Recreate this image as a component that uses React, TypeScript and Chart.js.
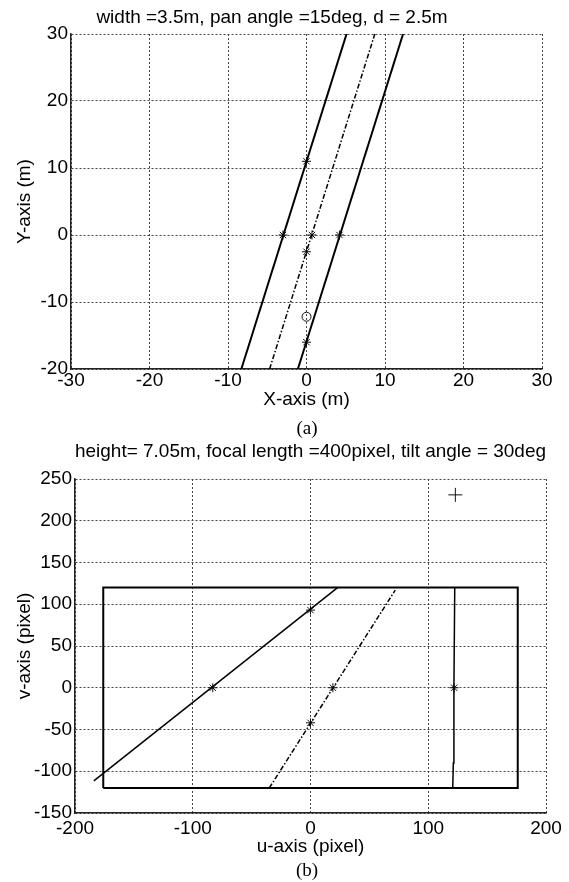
import React, { useEffect, useRef } from 'react';
import { Chart, registerables } from 'chart.js';

Chart.register(...registerables);

const FONT = "'Liberation Sans', Arial, Helvetica, sans-serif";
const SERIF = "'Liberation Serif', 'Times New Roman', serif";

// ---------- Panel (a): road plane ----------
const A_TITLE = 'width =3.5m, pan angle =15deg, d = 2.5m';
const A_X_LABEL = 'X-axis (m)';
const A_Y_LABEL = 'Y-axis (m)';
const A_X_TICKS = [-30, -20, -10, 0, 10, 20, 30];
const A_Y_TICKS = [-20, -10, 0, 10, 20, 30];
const A_LEFT_EDGE = [{ x: -8.3, y: -20 }, { x: 5.1, y: 30 }];
const A_CENTER_LINE = [{ x: -4.7, y: -20 }, { x: 8.7, y: 30 }];
const A_RIGHT_EDGE = [{ x: -1.1, y: -20 }, { x: 12.3, y: 30 }];
const A_STARS = [
  { x: 0, y: 11 }, { x: -3, y: 0 },
  { x: 0.7, y: 0 }, { x: 0, y: -2.5 },
  { x: 4.2, y: 0 }, { x: 0, y: -16 },
];
const A_CIRCLE = [{ x: 0, y: -12.2 }];

// ---------- Panel (b): image plane ----------
const B_TITLE = 'height= 7.05m, focal length =400pixel, tilt angle = 30deg';
const B_X_LABEL = 'u-axis (pixel)';
const B_Y_LABEL = 'v-axis (pixel)';
const B_X_TICKS = [-200, -100, 0, 100, 200];
const B_Y_TICKS = [-150, -100, -50, 0, 50, 100, 150, 200, 250];
const B_FRAME = [
  { x: -176, y: -120 }, { x: -176, y: 120 }, { x: 176, y: 120 },
  { x: 176, y: -120 }, { x: -176, y: -120 },
];
const B_LEFT_EDGE = [{ x: -184, y: -111.6 }, { x: 23, y: 120 }];
const B_CENTER_LINE = [{ x: -35, y: -120 }, { x: 72, y: 117 }];
const B_RIGHT_EDGE = [{ x: 120.8, y: -120 }, { x: 121.3, y: -90 }, { x: 121.8, y: 0 }, { x: 122.5, y: 120 }];
const B_STARS = [
  { x: 0, y: 93 }, { x: -83, y: 0 },
  { x: 0, y: -42 }, { x: 19, y: 0 },
  { x: 122, y: 0 },
];
const B_PLUS = [{ x: 123, y: 231 }];

function lineDs(label: string, data: any[], width: number, dash: number[] = []) {
  return {
    label, data, showLine: true, borderColor: '#000', borderWidth: width, borderDash: dash,
    pointRadius: 0, pointHoverRadius: 0, fill: false, tension: 0,
  };
}

function markerDs(label: string, data: any[], style: string, radius: number) {
  return {
    label, data, showLine: false, pointStyle: style, pointRadius: radius, pointHoverRadius: radius,
    pointBorderColor: '#111', pointBackgroundColor: 'rgba(0,0,0,0)', pointBorderWidth: 1,
  };
}

function makeOptions(p: any) {
  const tickFont = { family: FONT, size: 19, lineHeight: 1.2 };
  return {
    responsive: false,
    animation: false,
    events: [],
    layout: { padding: p.layoutPadding },
    plugins: {
      legend: { display: false },
      tooltip: { enabled: false },
      title: {
        display: true, text: p.title, fullSize: p.titleFullSize, color: '#000',
        font: { family: FONT, size: 19, weight: 'normal', lineHeight: 1.2 },
        padding: p.titlePadding,
      },
    },
    scales: {
      x: {
        type: 'linear', position: 'bottom',
        min: p.xTicks[0], max: p.xTicks[p.xTicks.length - 1],
        afterBuildTicks: (s: any) => { s.ticks = p.xTicks.map((v: number) => ({ value: v })); },
        afterFit: (s: any) => { s.height = p.xAxisHeight; s.paddingLeft = 0; s.paddingRight = 0; },
        ticks: { color: '#000', font: tickFont, padding: p.xTickPad, maxRotation: 0, autoSkip: false },
        grid: { color: '#444', lineWidth: 1, drawTicks: false },
        border: { display: true, color: '#222', width: 1.5, dash: [2, 2] },
        title: { display: true, text: p.xLabel, color: '#000', font: tickFont, padding: { top: 0, bottom: 0 } },
      },
      y: {
        type: 'linear', position: 'left',
        min: p.yTicks[0], max: p.yTicks[p.yTicks.length - 1],
        afterBuildTicks: (s: any) => { s.ticks = p.yTicks.map((v: number) => ({ value: v })); },
        afterFit: (s: any) => { s.width = p.yAxisWidth; s.paddingTop = 0; s.paddingBottom = 0; },
        ticks: { color: '#000', font: tickFont, padding: 3, autoSkip: false },
        grid: { color: '#444', lineWidth: 1, drawTicks: false },
        border: { display: true, color: '#222', width: 1.5, dash: [2, 2] },
        title: { display: true, text: p.yLabel, color: '#000', font: tickFont, padding: { top: 11.6, bottom: 0 } },
      },
    },
  };
}

const configA: any = {
  type: 'scatter',
  data: {
    datasets: [
      lineDs('left edge', A_LEFT_EDGE, 2),
      lineDs('center line', A_CENTER_LINE, 1.5, [5, 2, 1.5, 2]),
      lineDs('right edge', A_RIGHT_EDGE, 2),
      markerDs('points', A_STARS, 'star', 4.5),
      markerDs('camera', A_CIRCLE, 'circle', 4.5),
    ],
  },
  options: makeOptions({
    title: A_TITLE, titleFullSize: true, titlePadding: { top: 6.6, bottom: 4.6 },
    layoutPadding: { left: 2, right: 27, top: 0, bottom: 18.6 },
    xTicks: A_X_TICKS, yTicks: A_Y_TICKS, xLabel: A_X_LABEL, yLabel: A_Y_LABEL,
    xAxisHeight: 42.4, yAxisWidth: 69, xTickPad: 0.6,
  }),
};

const configB: any = {
  type: 'scatter',
  data: {
    datasets: [
      lineDs('image frame', B_FRAME, 2),
      lineDs('left edge', B_LEFT_EDGE, 1.5),
      lineDs('center line', B_CENTER_LINE, 1.5, [5, 2, 1.5, 2]),
      lineDs('right edge', B_RIGHT_EDGE, 1.5),
      markerDs('points', B_STARS, 'star', 4.5),
      markerDs('vanishing point', B_PLUS, 'cross', 7),
    ],
  },
  options: makeOptions({
    title: B_TITLE, titleFullSize: false, titlePadding: { top: 10.6, bottom: 15.6 },
    layoutPadding: { left: 2, right: 23, top: 0, bottom: 23.9 },
    xTicks: B_X_TICKS, yTicks: B_Y_TICKS, xLabel: B_X_LABEL, yLabel: B_Y_LABEL,
    xAxisHeight: 45.1, yAxisWidth: 73, xTickPad: 3.9,
  }),
};

function Panel({ config, top, width, height }: { config: any; top: number; width: number; height: number }) {
  const ref = useRef<HTMLCanvasElement>(null);
  useEffect(() => {
    const chart = new Chart(ref.current as HTMLCanvasElement, config);
    return () => chart.destroy();
  }, [config]);
  return (
    <canvas
      ref={ref}
      width={width}
      height={height}
      style={{ position: 'absolute', left: 0, top, width, height, display: 'block' }}
    />
  );
}

function Caption({ text, cx, cy }: { text: string; cx: number; cy: number }) {
  return (
    <div
      style={{
        position: 'absolute', left: cx - 50, top: cy - 11, width: 100, height: 22,
        lineHeight: '22px', textAlign: 'center', fontFamily: SERIF, fontSize: 19, color: '#000',
      }}
    >
      {text}
    </div>
  );
}

export default function App() {
  return (
    <div style={{ position: 'absolute', left: 0, top: 0, width: 569, height: 882, background: '#fff', overflow: 'hidden' }}>
      <Panel config={configA} top={0} width={569} height={430} />
      <Caption text="(a)" cx={307} cy={428} />
      <Panel config={configB} top={430} width={569} height={452} />
      <Caption text="(b)" cx={307} cy={870} />
    </div>
  );
}
